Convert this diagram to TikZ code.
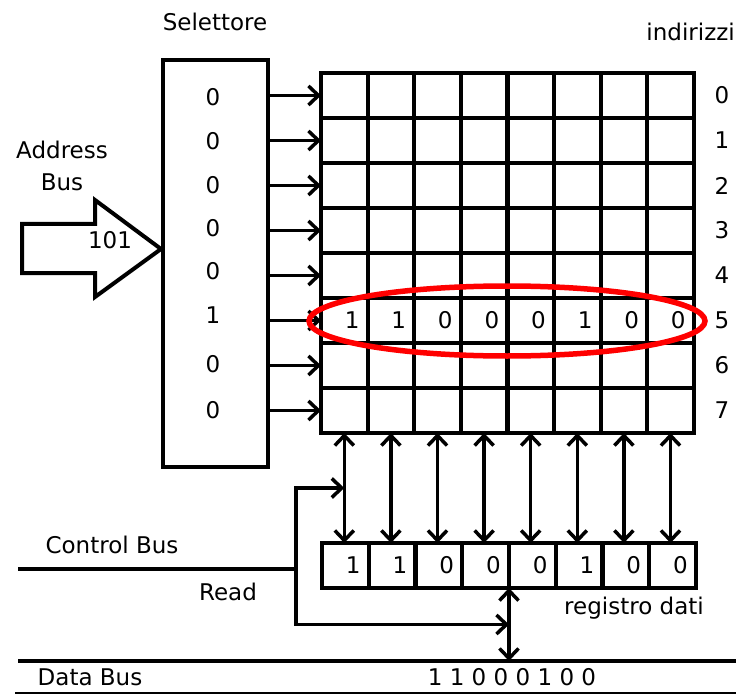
\documentclass[tikz,border=0pt]{standalone}
\usepackage{fontspec}
\setmainfont{DejaVu Sans}
\usetikzlibrary{arrows.meta,calc}

\begin{document}
\begin{tikzpicture}[x=1pt,y=-1pt,
  every node/.style={font=\fontsize{23}{27}\selectfont},
  cell/.style={draw,line width=4.2pt,minimum width=46.6pt,minimum height=45pt,inner sep=0pt,outer sep=0pt},
  regcell/.style={cell,minimum width=46.75pt},
  bit/.style={anchor=east,inner sep=0pt},
  wire/.style={line width=3.3pt},
  >={Straight Barb[length=10pt,width=19pt,line width=3.5pt]}]
\useasboundingbox (0,0) rectangle (736,695);
% memory grid
\foreach \r in {0,...,7}
  \foreach \c in {1,...,8}
    \node[cell] (c-\r-\c) at ({321+46.6*(\c-0.5)},{73+45*(\r+0.5)}) {};
\foreach \r/\y in {0/88,1/133,2/184,3/230,4/274,5/320,6/366,7/411}
  \node (a-\r) at (c-\r-8.east -| 722,\y) {\r};
\node[anchor=east,inner sep=1pt] (ind) at (736,32) {indirizzi};
% selector
\node[draw,line width=4pt,minimum width=105pt,minimum height=407pt,inner sep=0pt] (sel) at (215.5,263.5) {};
\node (sel-title) at (215,22) {Selettore};
\foreach \r/\y/\b in {0/97/0,1/141/0,2/185/0,3/228/0,4/271/0,5/315/1,6/364/0,7/410/0}
  \node (s-\r) at (213,\y) {\b};
\foreach \r in {0,...,7}
  \draw[wire,->] (sel.east |- c-\r-1.west) -- (c-\r-1.west);
% address bus
\draw[line width=4pt] (22,224) -- (95,224) -- (95,200) -- (sel.west |- 0,249) -- (95,297) -- (95,273) -- (22,273) -- cycle;
\node (addr) at (62,150) {Address};
\node (addr-bus) at (62,182) {Bus};
\node (addr-val) at (110,240) {101};
% selected row
\draw[red,line width=5.5pt] (507,321) ellipse [x radius=198pt,y radius=35pt];
\foreach \c/\b in {1/1,2/1,3/0,4/0,5/0,6/1,7/0,8/0}
  \node[bit] (m-\c) at ([xshift=-8pt]c-5-\c.east) {\b};
% data register
\foreach \c/\b in {1/1,2/1,3/0,4/0,5/0,6/1,7/0,8/0} {
  \node[regcell] (r-\c) at ({322+46.75*(\c-0.5)},565.5) {};
  \node[bit] (rb-\c) at ([xshift=-8pt]r-\c.east) {\b};
}
\foreach \c in {1,...,8}
  \draw[wire,<->] (c-7-\c.south) -- (c-7-\c.south |- r-\c.north);
\node (reg) at (634,608) {registro dati};
% control bus
\coordinate (cb) at (18,569);
\coordinate (rd) at (296,569);
\coordinate (mid) at ($(c-7-1.south)!0.5!(c-7-1.south |- r-1.north)$);
\coordinate (db) at (r-4.south east |- 0,661);
\coordinate (dbm) at ($(r-4.south east)!0.5!(db)$);
\draw[wire] (cb) -- (rd);
\draw[wire,->] (rd) |- (mid);
\draw[wire,->] (rd) |- (dbm);
\draw[wire,<->] (r-4.south east) -- (db);
\node (ctl) at (112,545) {Control Bus};
\node (read) at (228,592) {Read};
% data bus
\coordinate (dl) at (18,661);
\coordinate (dr) at (736,661);
\coordinate (bl) at (15,693);
\coordinate (br) at (736,693);
\draw[line width=3.5pt] (dl) -- (dr);
\draw[line width=2.5pt] (bl) -- (br);
\node (data) at (90,677) {Data Bus};
\node (data-val) at (512,677) {1 1 0 0 0 1 0 0};
\end{tikzpicture}
\end{document}
